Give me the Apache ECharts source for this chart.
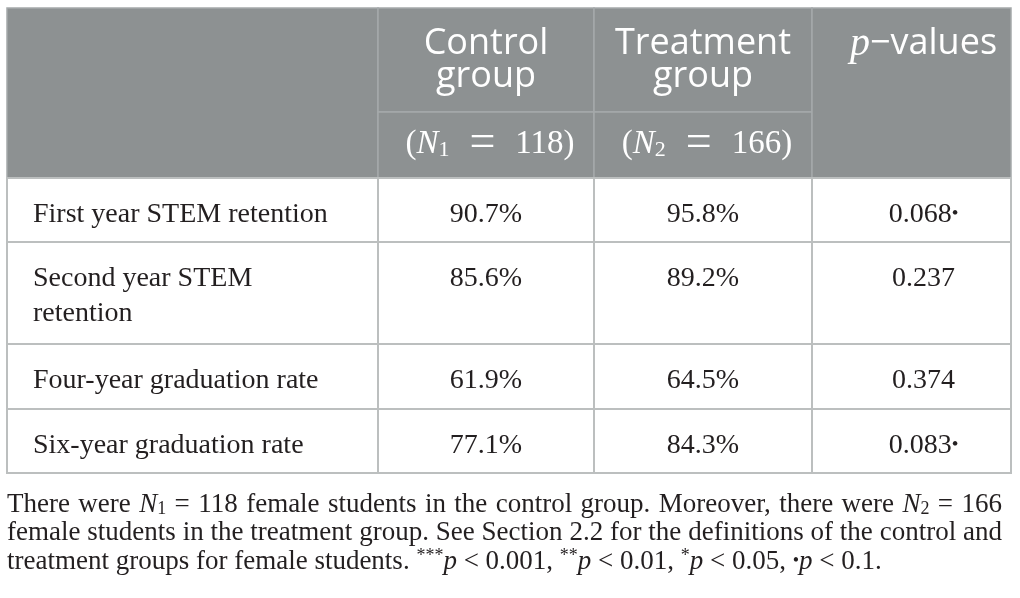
<!DOCTYPE html>
<html lang="en">
<head>
  <meta charset="utf-8">
  <title>STEM retention and graduation, female students</title>
  <style>
    html, body { margin: 0; padding: 0; background: #fff; }
    #main { width: 1020px; height: 598px; }
  </style>
  <script src="https://cdn.jsdelivr.net/npm/echarts@6/dist/echarts.min.js"></script>
</head>
<body>
<div id="main"></div>
<script type="text/javascript">
  // ---- data ----
  const rowLabels = ['First year STEM retention', 'Second year STEM\nretention', 'Four-year graduation rate', 'Six-year graduation rate'];
  const groupNames = ['Control\ngroup', 'Treatment\ngroup'];
  const groupSizes = [118, 166];
  const controlRates = [90.7, 85.6, 61.9, 77.1];
  const treatmentRates = [95.8, 89.2, 64.5, 84.3];
  const pValues = [0.068, 0.237, 0.374, 0.083];
  const sigCuts = [0.001, 0.01, 0.05, 0.1];
  const sigCodes = ['***', '**', '*', '•'];
  // _x_ italic, ~x~ subscript, ^x^ superscript
  const noteLines = [
    'There were _N_~1~ = 118 female students in the control group. Moreover, there were _N_~2~ = 166',
    'female students in the treatment group. See Section 2.2 for the definitions of the control and',
    'treatment groups for female students. ^***^_p_ < 0.001, ^**^_p_ < 0.01, ^*^_p_ < 0.05, •_p_ < 0.1.'
  ];

  // ---- layout (axis units are pixels inside the grid) ----
  const colEdges = [0, 371, 587, 805, 1004];
  const headEdges = [0, 104, 170];
  const rowEdges = [170, 234, 336, 401, 465];
  const headCells = [[0, 0, 2], [1, 0, 1], [1, 1, 2], [2, 0, 1], [2, 1, 2], [3, 0, 2]];

  const SERIF = "'Liberation Serif', 'Times New Roman', serif";
  const SANS = "'Open Sans', 'Lato', sans-serif";
  const INK = '#231f20';
  const HEAD_BG = '#8d9192';
  const HEAD_LINE = '#a5a9aa';
  const BORDER = '#bcbfbf';

  function sigMark(p) {
    for (let i = 0; i < sigCuts.length; i++) if (p < sigCuts[i]) return sigCodes[i];
    return '';
  }

  function cellRect(a, b, fill, stroke, lw) {
    return {
      type: 'rect',
      shape: { x: a[0], y: a[1], width: b[0] - a[0], height: b[1] - a[1] },
      style: { fill: fill, stroke: stroke, lineWidth: lw }
    };
  }

  function renderHead(params, api) {
    const c = api.value(0), e0 = api.value(1), e1 = api.value(2);
    const a = api.coord([colEdges[c], headEdges[e0]]);
    const b = api.coord([colEdges[c + 1], headEdges[e1]]);
    const cx = (a[0] + b[0]) / 2;
    const kids = [cellRect(a, b, HEAD_BG, HEAD_LINE, 1.5)];
    if ((c === 1 || c === 2) && e0 === 0) {
      kids.push({
        type: 'text',
        style: {
          text: groupNames[c - 1], x: cx, y: a[1] + 19.5, align: 'center', verticalAlign: 'top',
          fontSize: 36, fontFamily: SANS, lineHeight: 33, fill: '#fff'
        }
      });
    } else if (c === 1 || c === 2) {
      kids.push({
        type: 'text',
        style: {
          text: '{m|(}{mi|N}{sub|' + c + '}{gap| }{eq|=}{gap| }{m|' + groupSizes[c - 1] + ')}',
          x: cx + 4, y: a[1] + 32, align: 'center', verticalAlign: 'middle',
          rich: {
            m: { fontSize: 33, fontFamily: SERIF, fill: '#fff', lineHeight: 34 },
            mi: { fontSize: 33, fontFamily: SERIF, fontStyle: 'italic', fill: '#fff', lineHeight: 34 },
            sub: { fontSize: 22, fontFamily: SERIF, fill: '#fff', lineHeight: 15, verticalAlign: 'bottom' },
            eq: { fontSize: 46, fontFamily: SERIF, fill: '#fff', lineHeight: 34 },
            gap: { fontSize: 33, width: 20, lineHeight: 34 }
          }
        }
      });
    } else if (c === 3) {
      kids.push({
        type: 'text',
        style: {
          text: '{pi|p}{hs|−values}', x: cx + 12, y: a[1] + 19.5, align: 'center', verticalAlign: 'top',
          rich: {
            pi: { fontSize: 40, fontFamily: SERIF, fontStyle: 'italic', fill: '#fff', lineHeight: 33 },
            hs: { fontSize: 36, fontFamily: SANS, fill: '#fff', lineHeight: 33 }
          }
        }
      });
    }
    return { type: 'group', children: kids };
  }

  function renderBody(params, api) {
    const c = api.value(0), r = api.value(1);
    const a = api.coord([colEdges[c], rowEdges[r]]);
    const b = api.coord([colEdges[c + 1], rowEdges[r + 1]]);
    let text, x = (a[0] + b[0]) / 2, align = 'center';
    if (c === 0) { text = rowLabels[r]; x = a[0] + 26; align = 'left'; }
    else if (c === 1) text = controlRates[r].toFixed(1) + '%';
    else if (c === 2) text = treatmentRates[r].toFixed(1) + '%';
    else {
      const m = sigMark(pValues[r]);
      text = pValues[r].toFixed(3) + (m ? '{dot|' + m + '}' : '');
      x += 12;
    }
    return {
      type: 'group',
      children: [
        cellRect(a, b, '#fff', BORDER, 2),
        {
          type: 'text',
          style: {
            text: text, x: x, y: a[1] + 19, align: align, verticalAlign: 'top',
            fontSize: 28, fontFamily: SERIF, lineHeight: 35, fill: INK,
            rich: { dot: { fontSize: 19, fontFamily: SERIF, fill: INK, lineHeight: 35 } }
          }
        }
      ]
    };
  }

  // ---- footnote: rich text, first two lines justified ----
  const noteStyles = {
    t: { fontSize: 27, fontFamily: SERIF, fill: INK, lineHeight: 28 },
    i: { fontSize: 27, fontFamily: SERIF, fontStyle: 'italic', fill: INK, lineHeight: 28 },
    sub: { fontSize: 18, fontFamily: SERIF, fill: INK, lineHeight: 14, verticalAlign: 'bottom' },
    sup: { fontSize: 18, fontFamily: SERIF, fill: INK, lineHeight: 20, verticalAlign: 'top' },
    dot: { fontSize: 18, fontFamily: SERIF, fill: INK, lineHeight: 28 }
  };
  const ctx = document.createElement('canvas').getContext('2d');
  function measure(st, s) {
    ctx.font = (st.fontStyle || 'normal') + ' ' + st.fontSize + 'px ' + st.fontFamily;
    return ctx.measureText(s).width;
  }
  function parseWords(src) {
    return src.split(' ').map(function (w) {
      const toks = [];
      w.replace(/_([^_]+)_|~([^~]+)~|\^([^^]+)\^|(•)|([^_~^•]+)/g, function (m, it, sub, sup, dot, plain) {
        if (it) toks.push(['i', it]);
        else if (sub) toks.push(['sub', sub]);
        else if (sup) toks.push(['sup', sup]);
        else if (dot) toks.push(['dot', dot]);
        else toks.push(['t', plain]);
        return m;
      });
      return toks;
    });
  }
  function noteText(src, justifyWidth) {
    const words = parseWords(src);
    let total = 0;
    words.forEach(function (w) { w.forEach(function (t) { total += measure(noteStyles[t[0]], t[1]); }); });
    const gap = justifyWidth ? (justifyWidth - total) / (words.length - 1) : measure(noteStyles.t, ' ');
    const rich = Object.assign({}, noteStyles, { g: { fontSize: 27, fontFamily: SERIF, width: gap, lineHeight: 28 } });
    const text = words.map(function (w) {
      return w.map(function (t) { return '{' + t[0] + '|' + t[1] + '}'; }).join('');
    }).join('{g| }');
    return { text: text, rich: rich };
  }
  const noteTop = [490.5, 519, 547.5];
  const noteGraphics = noteLines.map(function (src, i) {
    const nt = noteText(src, i < 2 ? 995 : 0);
    return {
      type: 'text', x: 7, y: noteTop[i],
      style: { text: nt.text, rich: nt.rich, align: 'left', verticalAlign: 'top' }
    };
  });

  const bodyCells = [];
  rowLabels.forEach(function (_, r) { for (let c = 0; c < 4; c++) bodyCells.push([c, r]); });

  const chart = echarts.init(document.getElementById('main'));
  chart.setOption({
    animation: false,
    grid: { left: 7, top: 8, width: 1004, height: 465 },
    xAxis: { type: 'value', min: 0, max: 1004, show: false },
    yAxis: { type: 'value', min: 0, max: 465, inverse: true, show: false },
    series: [
      { type: 'custom', name: 'header', renderItem: renderHead, data: headCells, clip: false, silent: true },
      { type: 'custom', name: 'body', renderItem: renderBody, data: bodyCells, clip: false, silent: true }
    ],
    graphic: noteGraphics
  });
</script>
</body>
</html>
